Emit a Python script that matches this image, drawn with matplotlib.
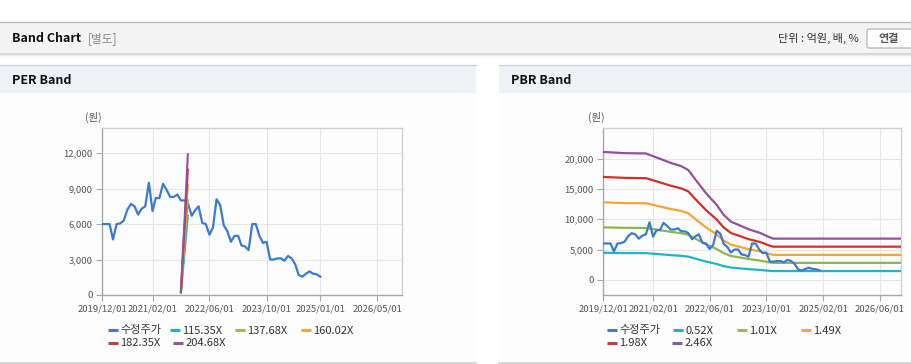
import matplotlib
matplotlib.use("Agg")
import matplotlib.pyplot as plt
from matplotlib.patches import Rectangle, FancyBboxPatch
from matplotlib.ticker import FuncFormatter
import pandas as pd

plt.rcParams['font.family'] = ['Noto Sans CJK KR', 'DejaVu Sans']

# ---------------- data ----------------
price_start = "2019-12-01"
price_values = [6000, 6000, 6000, 4700, 6000, 6050, 6300, 7200, 7700, 7500,
                6800, 7300, 7500, 9500, 7100, 8200, 8200, 9400, 8900, 8300,
                8300, 8500, 8000, 8000, 7700, 6700, 7200, 7500, 6100, 6000,
                5100, 5700, 8100, 7600, 5900, 5400, 4500, 5000, 5000, 4200,
                4100, 3800, 6000, 6000, 5000, 4400, 4500, 3000, 3000, 3100,
                3100, 2900, 3300, 3100, 2600, 1700, 1550, 1800, 2000, 1800,
                1750, 1550]
price_dates = pd.date_range(price_start, periods=len(price_values), freq="MS")

per_labels = ["115.35X", "137.68X", "160.02X", "182.35X", "204.68X"]
per_dates = pd.to_datetime(["2021-10-01", "2021-10-12", "2021-10-24",
                            "2021-11-05", "2021-11-17", "2021-11-29"])
per_115 = [170, 1410, 2710, 4000, 5350, 6700]
per_137 = [200, 1680, 3230, 4780, 6390, 8000]
per_160 = [235, 1950, 3750, 5550, 7430, 9300]
per_182 = [270, 2230, 4280, 6330, 8460, 10600]
per_204 = [300, 2500, 4800, 7100, 9500, 11900]

pbr_labels = ["0.52X", "1.01X", "1.49X", "1.98X", "2.46X"]
pbr_dates = pd.to_datetime(["2019-12-01", "2020-06-01", "2020-12-01", "2021-02-01",
                            "2021-05-01", "2021-07-01", "2021-10-01", "2021-12-01",
                            "2022-02-01", "2022-05-01", "2022-08-01", "2022-10-01",
                            "2022-12-01", "2023-02-01", "2023-05-01", "2023-08-01",
                            "2023-11-01", "2023-12-01", "2026-12-01"])
pbr_052 = [4460, 4420, 4410, 4310, 4180, 4080, 3960, 3830, 3490, 3020, 2610, 2260,
           2030, 1920, 1770, 1650, 1480, 1450, 1450]
pbr_101 = [8660, 8580, 8560, 8380, 8110, 7920, 7700, 7430, 6770, 5870, 5070, 4390,
           3940, 3740, 3430, 3200, 2870, 2800, 2800]
pbr_149 = [12780, 12660, 12630, 12360, 11960, 11690, 11360, 10960, 9990, 8660, 7480,
           6480, 5810, 5510, 5060, 4720, 4240, 4120, 4120]
pbr_198 = [16980, 16820, 16780, 16420, 15900, 15530, 15090, 14570, 13280, 11510, 9940,
           8610, 7730, 7320, 6720, 6280, 5630, 5470, 5470]
pbr_246 = [21100, 20900, 20850, 20400, 19750, 19300, 18750, 18100, 16500, 14300, 12350,
           10700, 9600, 9100, 8350, 7800, 7000, 6800, 6800]

per_ticks = ["2019/12/01", "2021/02/01", "2022/06/01", "2023/10/01", "2025/01/01", "2026/05/01"]
pbr_ticks = ["2019/12/01", "2021/02/01", "2022/06/01", "2023/10/01", "2025/02/01", "2026/06/01"]
x_range = ["2019-12-01", "2026-12-01"]

price_label = "수정주가"
colors = ["#3a7bd0", "#1fb4c6", "#8cb750", "#f3a633", "#d4302a", "#95509c"]
legend_colors = ["#4a78bd", "#2ab0c0", "#9bbb59", "#f0a840", "#c0403d", "#8a5a9e"]

# ---------------- figure ----------------
W, H = 912, 364
fig = plt.figure(figsize=(W / 100, H / 100), dpi=100)
bg = fig.add_axes([0, 0, 1, 1], zorder=0)
bg.set_xlim(0, W)
bg.set_ylim(H, 0)
bg.axis("off")

# top header
bg.add_patch(Rectangle((0, 22), W, 31, facecolor="#f4f4f4", edgecolor="none"))
bg.plot([0, W], [22, 22], color="#b8b8b8", lw=1.0)
bg.plot([0, W], [53.5, 53.5], color="#d6d6d6", lw=1.5)
bg.plot([0, W], [55, 55], color="#ececec", lw=1.0)
bg.text(12, 38, "Band Chart", fontsize=9, fontweight="bold", va="center", ha="left", color="#111111")
bg.text(88, 38.5, "[별도]", fontsize=8.5, va="center", ha="left", color="#8a8a8a")
bg.text(859, 38.5, "단위 : 억원, 배, %", fontsize=8, va="center", ha="right", color="#333333")
bg.add_patch(FancyBboxPatch((867, 29), 50, 19, boxstyle="round,pad=0,rounding_size=2",
                            facecolor="white", edgecolor="#b5b5b5", lw=0.9))
bg.text(889, 38.5, "연결", fontsize=8, va="center", ha="center", color="#555555", fontweight="bold")

# panels
for (px, pw, title) in [(0, 476, "PER Band"), (499, 413, "PBR Band")]:
    bg.add_patch(Rectangle((px, 65), pw, 28, facecolor="#eef2f6", edgecolor="none"))
    bg.plot([px, px + pw], [65, 65], color="#d2d6da", lw=1.0)
    bg.add_patch(Rectangle((px, 93), pw, 269, facecolor="#fdfdfe", edgecolor="none"))
    bg.plot([px, px + pw], [362.5, 362.5], color="#d0d0d0", lw=1.2)
    bg.text(px + 12, 80, title, fontsize=9, fontweight="bold", va="center", ha="left", color="#111111")

bg.text(85, 117, "(원)", fontsize=7.5, va="center", ha="left", color="#555555")
bg.text(588, 117, "(원)", fontsize=7.5, va="center", ha="left", color="#555555")


def style_axes(ax, tick_labels, yticks, ylim):
    ax.set_facecolor("none")
    ax.set_xlim(pd.to_datetime(x_range[0]), pd.to_datetime(x_range[1]))
    ax.set_ylim(*ylim)
    tick_dates = pd.to_datetime(tick_labels, format="%Y/%m/%d")
    ax.set_xticks(tick_dates)
    ax.set_xticklabels(tick_labels)
    ax.set_yticks(yticks)
    ax.yaxis.set_major_formatter(FuncFormatter(lambda v, p: f"{int(v):,}"))
    ax.grid(True, color="#e6e6e6", lw=0.8)
    ax.set_axisbelow(True)
    for s in ["top", "right"]:
        ax.spines[s].set_color("#d0d0d0")
        ax.spines[s].set_linewidth(1.0)
    for s in ["left", "bottom"]:
        ax.spines[s].set_color("#a8a8a8")
        ax.spines[s].set_linewidth(1.0)
    ax.tick_params(axis="both", colors="#a8a8a8", labelcolor="#555555", labelsize=6.8,
                   length=4, width=0.8, direction="out", pad=3)


axL = fig.add_axes([102.3 / W, 1 - 295 / H, 300 / W, (295 - 128.3) / H], zorder=2)
style_axes(axL, per_ticks, [0, 3000, 6000, 9000, 12000], (0, 14100))
axL.plot(price_dates, price_values, color=colors[0], lw=1.6, zorder=3)
for vals, c in zip([per_115, per_137, per_160, per_182, per_204], colors[1:]):
    axL.plot(per_dates, vals, color=c, lw=1.5, zorder=4)

axR = fig.add_axes([603.3 / W, 1 - 295 / H, (901 - 603.3) / W, (295 - 128.3) / H], zorder=2)
style_axes(axR, pbr_ticks, [0, 5000, 10000, 15000, 20000], (-2500, 25000))
for vals, c in zip([pbr_052, pbr_101, pbr_149, pbr_198, pbr_246], colors[1:]):
    axR.plot(pbr_dates, vals, color=c, lw=1.6, zorder=3)
axR.plot(price_dates, price_values, color=colors[0], lw=1.6, zorder=4)


def legend(xs_row1, xs_row2, labels):
    names = [price_label] + labels
    pos = [(x, 330) for x in xs_row1] + [(x, 343) for x in xs_row2]
    for (x, y), name, c in zip(pos, names, legend_colors):
        bg.plot([x, x + 10], [y, y], color=c, lw=2.2, solid_capstyle="butt")
        bg.text(x + 12.5, y + 0.5, name, fontsize=8, va="center", ha="left", color="#333333")


legend([108, 170, 235, 301], [108, 173], per_labels)
legend([607, 673, 737, 801], [607, 672], pbr_labels)

fig.savefig("out.png", dpi=100)
